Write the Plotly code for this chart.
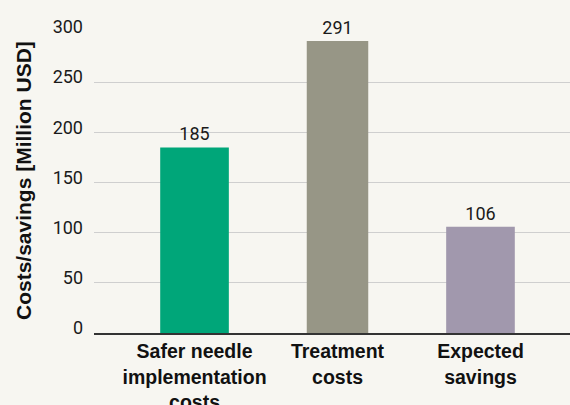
import plotly.graph_objects as go

categories = ["Safer needle<br>implementation<br>costs", "Treatment<br>costs", "Expected<br>savings"]
values = [185, 291, 106]
colors = ["#00a679", "#979686", "#a198ad"]
tick_vals = [0, 50, 100, 150, 200, 250, 300]
y_title = "Costs/savings [Million USD]"

fig = go.Figure(go.Bar(
    x=[0, 1, 2], y=values,
    width=[0.48, 0.43, 0.48],
    marker=dict(color=colors, line=dict(width=0)),
    text=[str(v) for v in values], textposition="outside",
    textfont=dict(family="Roboto", size=18, color="#1a1a1a"),
    cliponaxis=False,
))

fig.update_layout(
    width=570, height=405,
    paper_bgcolor="#f7f6f1", plot_bgcolor="#f7f6f1",
    margin=dict(l=94, r=0, t=32, b=72, autoexpand=False),
    showlegend=False,
    font=dict(family="Roboto", color="#1a1a1a"),
)
fig.update_xaxes(
    range=[-0.703, 2.626], automargin=False,
    tickvals=[0, 1, 2], ticktext=["<b>%s</b>" % c for c in categories],
    tickfont=dict(family="Liberation Sans", size=19.5, color="#111111"),
    showgrid=False, showline=True, linecolor="#333333", linewidth=2,
    ticks="", fixedrange=True,
)
fig.update_yaxes(
    range=[0, 300], tickvals=tick_vals, automargin=False,
    showgrid=True, gridcolor="#cfcfcf", gridwidth=1,
    zeroline=False, showline=False,
    tickfont=dict(family="Roboto", size=18, color="#1a1a1a"),
    ticklabelstandoff=10, ticklabelshift=-5,
)
fig.add_annotation(
    text="<b>%s</b>" % y_title, textangle=-90,
    xref="paper", yref="paper", x=-0.147, y=0.505,
    xanchor="center", yanchor="middle", showarrow=False,
    font=dict(family="Liberation Sans", size=21, color="#111111"),
)
fig.write_html("out.html", config={"displayModeBar": False},
               post_script="document.body.style.margin='0';document.body.style.overflow='hidden';")
